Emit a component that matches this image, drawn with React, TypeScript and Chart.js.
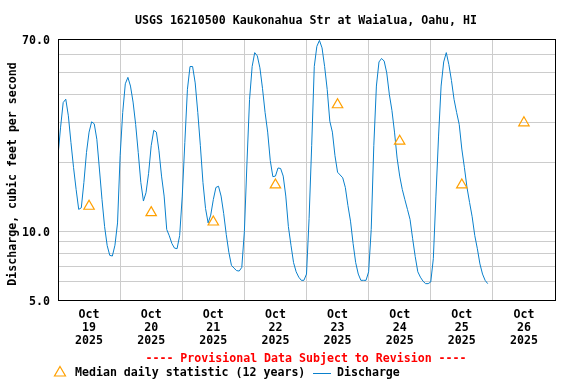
import React, { useEffect, useRef } from 'react';
import { Chart, registerables } from 'chart.js';

Chart.register(...registerables);

const TITLE = 'USGS 16210500 Kaukonahua Str at Waialua, Oahu, HI';
const Y_TITLE = 'Discharge, cubic feet per second';
const PROVISIONAL = '---- Provisional Data Subject to Revision ----';
const LEGEND_MEDIAN = 'Median daily statistic (12 years)';
const LEGEND_DISCHARGE = 'Discharge';

const MONTH = 'Oct';
const YEAR = '2025';
const DAYS = ['19', '20', '21', '22', '23', '24', '25', '26'];
const HOURS_PER_DAY = 24;

// Hourly discharge (cfs) starting Oct 19 2025 00:00
const DISCHARGE = [
  21.5, 28.7, 36.8, 38.1, 32.2, 24.6, 19.1, 15.3, 12.5, 12.7,
  16.4, 22.2, 27.3, 30.3, 29.7, 25.4, 18.8, 13.8, 10.5, 8.67,
  7.85, 7.8, 8.7, 10.9, 21.5, 33.3, 44.5, 47.5, 43.5, 37.0,
  29.5, 22.2, 16.4, 13.6, 14.8, 18.0, 23.8, 27.8, 27.3, 22.6,
  17.5, 14.3, 10.2, 9.57, 8.85, 8.45, 8.4, 9.6, 14.3, 24.6,
  42.1, 53.0, 53.0, 44.9, 33.3, 23.8, 16.4, 12.6, 10.9, 11.8,
  13.8, 15.6, 15.8, 14.3, 12.0, 9.7, 8.1, 7.1, 6.9, 6.73,
  6.7, 6.95, 10.0, 20.0, 38.0, 53.0, 61.0, 59.0, 52.3, 42.5,
  33.3, 27.3, 20.5, 17.4, 17.5, 19.0, 18.9, 17.5, 14.3, 10.5,
  8.7, 7.3, 6.65, 6.3, 6.1, 6.1, 6.5, 11.4, 23.8, 53.0,
  65.0, 69.0, 64.0, 53.0, 42.0, 30.5, 27.3, 21.5, 18.2, 17.7,
  17.2, 15.6, 13.0, 11.1, 8.85, 7.3, 6.5, 6.1, 6.1, 6.1,
  6.65, 10.2, 23.8, 43.5, 55.5, 57.5, 56.0, 49.7, 40.0, 34.0,
  27.3, 21.0, 17.5, 15.3, 13.8, 12.5, 11.3, 9.3, 7.75, 6.65,
  6.3, 6.05, 5.9, 5.9, 6.0, 7.6, 14.3, 26.0, 43.5, 55.5,
  61.0, 54.0, 46.0, 38.0, 33.3, 29.5, 23.0, 19.1, 15.6, 13.4,
  11.6, 9.6, 8.4, 7.2, 6.5, 6.1, 5.9,
];

// Median daily statistic (12 years), one per day, plotted at noon
const MEDIAN = [12.9, 12.1, 11.0, 16.0, 36.0, 24.9, 16.0, 30.0];

const Y_GRID = [5, 6, 7, 8, 9, 10, 20, 30, 40, 50, 60, 70];
const Y_LABELED = [5, 10, 70];
const Y_MIN = 5;
const Y_MAX = 70;

const FONT_FAMILY = '"DejaVu Sans Mono", "Liberation Mono", monospace';
const FONT_SIZE = 11.6;
const BLUE = '#0a80cc';
const ORANGE = '#ffa000';
const GRID = '#cccccc';

const overlay = {
  id: 'overlay',
  afterDraw(chart: any) {
    const ctx = chart.ctx as CanvasRenderingContext2D;
    const a = chart.chartArea;
    ctx.save();
    // plot frame
    ctx.strokeStyle = '#000';
    ctx.lineWidth = 1;
    ctx.strokeRect(a.left + 0.5, a.top + 0.5, a.right - a.left, a.bottom - a.top);

    ctx.font = `bold ${FONT_SIZE}px ${FONT_FAMILY}`;
    ctx.textBaseline = 'middle';

    // title
    ctx.fillStyle = '#000';
    ctx.textAlign = 'center';
    ctx.fillText(TITLE, 306, 20.5);

    // provisional
    ctx.fillStyle = '#ff0000';
    ctx.fillText(PROVISIONAL, 306, 359);

    // y title
    ctx.save();
    ctx.translate(12.5, 174);
    ctx.rotate(-Math.PI / 2);
    ctx.fillStyle = '#000';
    ctx.textAlign = 'center';
    ctx.fillText(Y_TITLE, 0, 0);
    ctx.restore();

    // legend
    const ly = 373;
    ctx.strokeStyle = ORANGE;
    ctx.lineWidth = 1.2;
    ctx.beginPath();
    ctx.moveTo(60, 366.5);
    ctx.lineTo(65.5, 376);
    ctx.lineTo(54.5, 376);
    ctx.closePath();
    ctx.stroke();
    ctx.fillStyle = '#000';
    ctx.textAlign = 'left';
    ctx.fillText(LEGEND_MEDIAN, 75, ly);
    ctx.strokeStyle = BLUE;
    ctx.lineWidth = 1;
    ctx.beginPath();
    ctx.moveTo(313, ly + 0.5);
    ctx.lineTo(331, ly + 0.5);
    ctx.stroke();
    ctx.fillText(LEGEND_DISCHARGE, 337, ly);
    ctx.restore();
  },
};

export default function App() {
  const ref = useRef<HTMLCanvasElement>(null);

  useEffect(() => {
    if (!ref.current) return;
    const dischargePts = DISCHARGE.map((v, i) => ({ x: i, y: v }));
    const medianPts = MEDIAN.map((v, i) => ({ x: i * HOURS_PER_DAY + HOURS_PER_DAY / 2, y: v }));
    const xMax = DAYS.length * HOURS_PER_DAY;
    const xTicks: number[] = [];
    for (let h = 0; h <= xMax; h += HOURS_PER_DAY / 2) xTicks.push(h);
    const tickFont = { family: FONT_FAMILY, size: FONT_SIZE, weight: 'bold' as const, lineHeight: '13px' };

    const chart = new Chart(ref.current, {
      type: 'line',
      data: {
        datasets: [
          {
            label: LEGEND_MEDIAN,
            data: medianPts,
            showLine: false,
            pointStyle: 'triangle',
            pointRadius: 6,
            pointBorderColor: ORANGE,
            pointBackgroundColor: 'rgba(0,0,0,0)',
            pointBorderWidth: 1.2,
            borderColor: ORANGE,
            order: 0,
          },
          {
            label: LEGEND_DISCHARGE,
            data: dischargePts,
            borderColor: BLUE,
            borderWidth: 1,
            pointRadius: 0,
            tension: 0,
            fill: false,
            order: 1,
          },
        ],
      },
      options: {
        responsive: false,
        animation: false,
        devicePixelRatio: 1,
        layout: { padding: { top: 39, right: 21, left: 0, bottom: 0 } },
        plugins: {
          legend: { display: false },
          title: { display: false },
          tooltip: { enabled: false },
        },
        scales: {
          x: {
            type: 'linear',
            min: 0,
            max: xMax,
            afterBuildTicks: (axis: any) => {
              axis.ticks = xTicks.map((v) => ({ value: v }));
            },
            afterFit: (axis: any) => {
              axis.height = 84;
            },
            grid: {
              color: (c: any) =>
                c.tick && c.tick.value % HOURS_PER_DAY === 0 ? GRID : 'rgba(0,0,0,0)',
              drawTicks: false,
              lineWidth: 1,
            },
            border: { display: false },
            ticks: {
              autoSkip: false,
              maxRotation: 0,
              minRotation: 0,
              padding: 8.5,
              color: '#000',
              font: tickFont,
              callback: (v: any) => {
                const n = Number(v);
                if (n % HOURS_PER_DAY !== HOURS_PER_DAY / 2) return '';
                const d = DAYS[Math.floor(n / HOURS_PER_DAY)];
                return [MONTH, d, YEAR];
              },
            },
          },
          y: {
            type: 'logarithmic',
            min: Y_MIN,
            max: Y_MAX,
            afterBuildTicks: (axis: any) => {
              axis.ticks = Y_GRID.map((v) => ({ value: v }));
            },
            afterFit: (axis: any) => {
              axis.width = 58;
            },
            grid: { color: GRID, drawTicks: false, lineWidth: 1 },
            border: { display: false },
            ticks: {
              autoSkip: false,
              padding: 8,
              labelOffset: 1.5,
              color: '#000',
              font: tickFont,
              callback: (v: any) => {
                const n = Number(v);
                return Y_LABELED.includes(n) ? n.toFixed(1) : '';
              },
            },
          },
        },
      },
      plugins: [overlay],
    } as any);
    return () => chart.destroy();
  }, []);

  return (
    <div style={{ position: 'fixed', left: 0, top: 0, width: 576, height: 384, background: '#fff' }}>
      <canvas ref={ref} width={576} height={384} style={{ display: 'block' }} />
    </div>
  );
}
